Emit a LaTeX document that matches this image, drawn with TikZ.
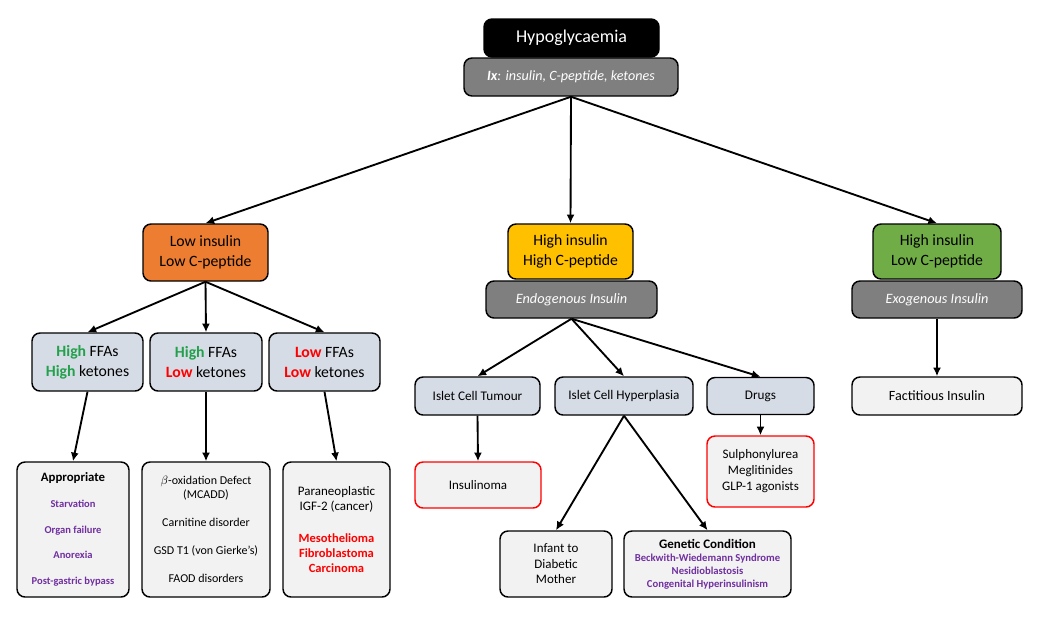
\documentclass[tikz,border=0pt]{standalone}
\usepackage{fontspec}
\setmainfont{Carlito}
\usetikzlibrary{arrows.meta}
\definecolor{cOrange}{HTML}{ED7D31}
\definecolor{cYellow}{HTML}{FFC000}
\definecolor{cGreenFill}{HTML}{70AD47}
\definecolor{cGreenTxt}{HTML}{22A04B}
\definecolor{cRed}{HTML}{FF0000}
\definecolor{cPurple}{HTML}{7030A0}
\definecolor{cGrey}{HTML}{7F7F7F}
\definecolor{cBlueGrey}{HTML}{D6DCE5}
\definecolor{cLight}{HTML}{F2F2F2}
\newcommand{\fs}[2]{\fontsize{#1}{#2}\selectfont}
\newcommand{\hi}{\textcolor{cGreenTxt}{\bfseries High}}
\newcommand{\lo}{\textcolor{cRed}{\bfseries Low}}
\begin{document}
\begin{tikzpicture}[x=0.75pt,y=-0.75pt,
  box/.style={draw=black, line width=1.1pt, rounded corners=6pt, align=center, inner sep=0pt, text=black},
  wh/.style 2 args={minimum width=#1*0.75pt, minimum height=#2*0.75pt},
  bigbox/.style={box, font=\fs{11.8}{15}},
  greybox/.style={box, fill=cGrey, text=white, font=\fs{10.7}{13}\itshape},
  smallbox/.style={box, font=\fs{9.9}{12}},
  redbox/.style={box, draw=cRed, fill=cLight},
  arr/.style={line width=1.4pt, -{Latex[length=6.5pt,width=6pt]}}
]
\useasboundingbox (0,0) rectangle (1046,618);
\fill[white] (0,0) rectangle (1046,618);

% top
\node[box, fill=black, text=white, wh={175}{38}, font=\fs{13.5}{16}] (hypo) at (571.5,38) {Hypoglycaemia};
\node[box, fill=cGrey, text=white, wh={214}{38}, font=\fs{10.6}{12}\itshape] (ix) at (571,77) {\textbf{Ix}: insulin, C-peptide, ketones};

% second row
\node[bigbox, fill=cOrange, wh={125}{57}] (lowins) at (205.5,252.5) {Low insulin\\Low C-peptide};
\node[bigbox, fill=cYellow, wh={125}{55}] (hiins) at (570.5,251.5) {High insulin\\High C-peptide};
\node[greybox, wh={171}{37}] (endo) at (571.5,299.5) {Endogenous Insulin};
\node[bigbox, fill=cGreenFill, wh={128}{55}] (green) at (937,251.5) {High insulin\\Low C-peptide};
\node[greybox, wh={170}{37}] (exo) at (937,299.5) {Exogenous Insulin};

% FFA row
\node[bigbox, fill=cBlueGrey, wh={111}{58}] (ffa1) at (87.5,362) {\hi{} FFAs\\\hi{} ketones};
\node[bigbox, fill=cBlueGrey, wh={112}{58}] (ffa2) at (206,362) {\hi{} FFAs\\\lo{} ketones};
\node[bigbox, fill=cBlueGrey, wh={111}{58}] (ffa3) at (324.5,362) {\lo{} FFAs\\\lo{} ketones};

% bottom left
\node[box, fill=cLight, wh={112}{135}, font=\fs{7.9}{19.3}\bfseries] (approp) at (73,529.5)
  {{\fs{9.6}{19.3}Appropriate}\\
   \textcolor{cPurple}{Starvation}\\
   \textcolor{cPurple}{Organ failure}\\
   \textcolor{cPurple}{Anorexia}\\
   \textcolor{cPurple}{Post-gastric bypass}};
\node[box, fill=cLight, wh={128}{135}, font=\fs{9}{10.5}] (beta) at (206,529.5)
  {$\beta$-oxidation Defect\\(MCADD)\\[10.8pt]Carnitine disorder\\[10.5pt]GSD T1 (von Gierke's)\\[10.5pt]FAOD disorders};
\node[box, fill=cLight, wh={107}{135}, font=\fs{9.75}{11.2}] (para) at (336.5,529.5)
  {Paraneoplastic\\IGF-2 (cancer)\\[13.5pt]
   \textcolor{cRed}{\bfseries\fs{9.4}{11.6}Mesothelioma}\\
   \textcolor{cRed}{\bfseries\fs{9.4}{11.6}Fibroblastoma}\\
   \textcolor{cRed}{\bfseries\fs{9.4}{11.6}Carcinoma}};

% middle branch
\node[smallbox, fill=cBlueGrey, wh={125}{38}] (tumour) at (477.5,396) {Islet Cell Tumour};
\node[smallbox, fill=cBlueGrey, wh={138}{38}] (hyper) at (624,396) {Islet Cell Hyperplasia};
\node[smallbox, fill=cBlueGrey, wh={107}{37}] (drugs) at (760.5,396) {Drugs};
\node[redbox, wh={126}{46}, font=\fs{9.75}{12}] (insulinoma) at (478,485) {Insulinoma};
\node[redbox, wh={107}{71}, font=\fs{9.75}{12}] (sulph) at (760.5,471.5) {Sulphonylurea\\Meglitinides\\GLP-1 agonists};
\node[box, fill=cLight, wh={112}{66}, font=\fs{9.75}{11.6}] (infant) at (556,564) {Infant to\\Diabetic\\Mother};
\node[box, fill=cLight, wh={167}{66}, font=\fs{8}{9.75}\bfseries] (genetic) at (707.5,564)
  {{\fs{9.75}{9.75}Genetic Condition}\\
   \textcolor{cPurple}{Beckwith-Wiedemann Syndrome}\\
   \textcolor{cPurple}{Nesidioblastosis}\\
   \textcolor{cPurple}{Congenital Hyperinsulinism}};

% right branch
\node[box, fill=cLight, wh={170}{38}, font=\fs{10.6}{12}] (fact) at (937,396) {Factitious Insulin};

% connectors
\draw[arr] (ix.south) -- (lowins.north);
\draw[arr] (ix.south) -- (hiins.north);
\draw[arr] (ix.south) -- (green.north);
\draw[arr] (lowins.south) -- (ffa1.north);
\draw[arr] (lowins.south) -- (ffa2.north);
\draw[arr] (lowins.south) -- (ffa3.north);
\draw[arr] (ffa1.south) -- (approp.north);
\draw[arr] (ffa2.south) -- (beta.north);
\draw[arr] (ffa3.south) -- (para.north);
\draw[arr] (endo.south) -- (tumour.north);
\draw[arr] (endo.south) -- (hyper.north);
\draw[arr] (endo.south) -- (drugs.north);
\draw[arr] (tumour.south) -- (insulinoma.north);
\draw[arr] (drugs.south) -- (sulph.north);
\draw[arr] (hyper.south) -- (infant.north);
\draw[arr] (hyper.south) -- (genetic.north);
\draw[arr] (exo.south) -- (fact.north);
\end{tikzpicture}
\end{document}
